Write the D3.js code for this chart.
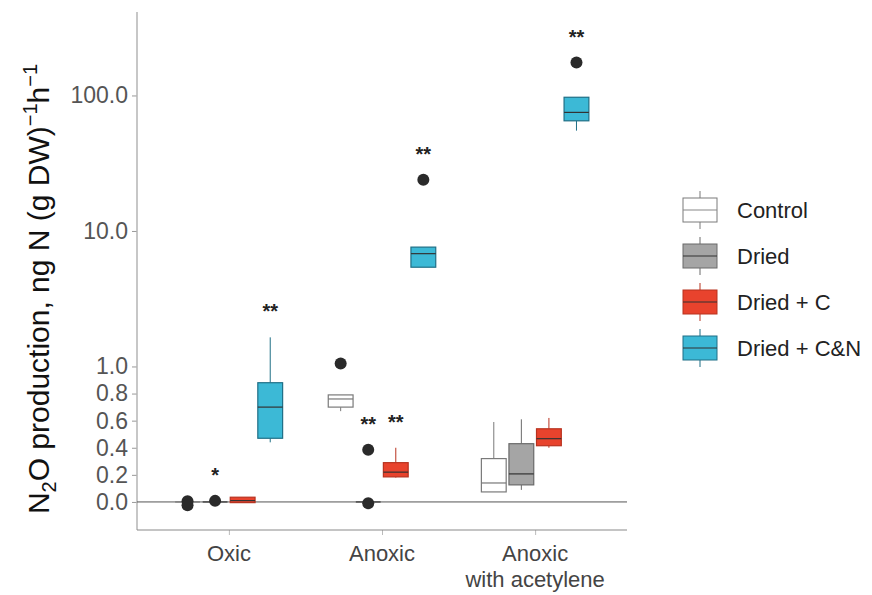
<!DOCTYPE html>
<html>
<head>
<meta charset="utf-8">
<script src="https://cdn.jsdelivr.net/npm/d3@7"></script>
<style>
  html, body { margin: 0; padding: 0; background: #fff; }
  svg { display: block; font-family: Arial, "Liberation Sans", Helvetica, sans-serif; }
</style>
</head>
<body>
<svg id="chart" width="872" height="595"></svg>
<script>
// ---------------- data ----------------
const conditions = ["Oxic", "Anoxic", "Anoxic|with acetylene"];
const treatments = ["Control", "Dried", "Dried + C", "Dried + C&N"];
const yTickValues = [0, 0.2, 0.4, 0.6, 0.8, 1, 10, 100];

// box stats per condition: [lowerWhisker, q1, median, q3, upperWhisker]
const controlBoxes   = [[0, 0, 0, 0, 0], [0.67, 0.70, 0.76, 0.79, 0.79], [0.074, 0.074, 0.14, 0.32, 0.59]];
const driedBoxes     = [[0, 0, 0, 0, 0], [0, 0, 0, 0, 0], [0.089, 0.126, 0.207, 0.43, 0.61]];
const driedCBoxes    = [[-0.005, -0.005, 0.01, 0.035, 0.035], [0.18, 0.185, 0.22, 0.29, 0.40], [0.40, 0.415, 0.467, 0.54, 0.62]];
const driedCNBoxes   = [[0.44, 0.47, 0.70, 0.88, 1.64], [5.4, 5.4, 6.8, 7.6, 7.6], [55, 65, 75, 97, 97]];

// outliers per condition
const controlOutliers = [[0.005, -0.025], [1.05], []];
const driedOutliers   = [[0.008], [0.385, -0.01], []];
const driedCOutliers  = [[], [], []];
const driedCNOutliers = [[], [23.9], [175]];

// significance marks per condition
const controlSig = ["", "", ""];
const driedSig   = ["*", "**", ""];
const driedCSig  = ["", "**", ""];
const driedCNSig = ["**", "**", "**"];

const fills   = ["#ffffff", "#a5a5a5", "#e8432d", "#3cb9d6"];
const strokes = ["#7a7a7a", "#6a6a6a", "#b8321f", "#1f6f86"];

const boxesBy    = [controlBoxes, driedBoxes, driedCBoxes, driedCNBoxes];
const outliersBy = [controlOutliers, driedOutliers, driedCOutliers, driedCNOutliers];
const sigBy      = [controlSig, driedSig, driedCSig, driedCNSig];

// ---------------- layout ----------------
const svg = d3.select("#chart");
const plot = { left: 137, right: 627, top: 12, bottom: 530 };

// transform: linear up to 1, log10 above 1
const tr = v => (v <= 1 ? v : 1 + Math.log10(v));
const yLin = d3.scaleLinear().domain([-0.207, 3.616]).range([plot.bottom, plot.top]);
const y = v => yLin(tr(v));
y.copy = () => y;
y.range = () => yLin.range();
y.domain = () => yLin.domain();

const x = d3.scalePoint().domain(conditions).range([plot.left, plot.right]).padding(0.6);
const step = x.step();
const slot = step * 0.18;
const boxW = slot * 0.9;
const offset = i => (i - 1.5) * slot;

// axes
const yAxis = d3.axisLeft(y).tickValues(yTickValues).tickFormat(d3.format(".1f")).tickSize(5).tickPadding(4);
const gy = svg.append("g").attr("transform", `translate(${plot.left},0)`).call(yAxis);
gy.select(".domain").remove();
gy.selectAll(".tick line").attr("stroke", "#999");
gy.selectAll(".tick text").attr("fill", "#555").style("font-size", "23px");
svg.append("line").attr("x1", plot.left).attr("x2", plot.left)
  .attr("y1", plot.top).attr("y2", plot.bottom).attr("stroke", "#b5b5b5").attr("stroke-width", 1.5);

const xAxis = d3.axisBottom(x).tickSize(5).tickFormat("");
const gx = svg.append("g").attr("transform", `translate(0,${plot.bottom})`).call(xAxis);
gx.select(".domain").remove();
gx.selectAll(".tick line").attr("stroke", "#bbb");
svg.append("line").attr("x1", plot.left).attr("x2", plot.right)
  .attr("y1", plot.bottom).attr("y2", plot.bottom).attr("stroke", "#8a8a8a").attr("stroke-width", 1.2);

conditions.forEach(c => {
  const lines = c.split("|");
  const t = svg.append("text").attr("x", x(c)).attr("y", 561).attr("text-anchor", "middle")
    .attr("fill", "#444").style("font-size", "22px");
  lines.forEach((l, i) => t.append("tspan").attr("x", x(c)).attr("dy", i === 0 ? 0 : 26).text(l));
});

// zero reference line
svg.append("line").attr("x1", plot.left).attr("x2", plot.right)
  .attr("y1", y(0)).attr("y2", y(0)).attr("stroke", "#555").attr("stroke-width", 1);

// y title
const yt = svg.append("text").attr("transform", "translate(49,289) rotate(-90)")
  .attr("text-anchor", "middle").attr("fill", "#111").style("font-size", "30px");
yt.append("tspan").text("N");
yt.append("tspan").text("2").attr("dy", 7).style("font-size", "20px");
yt.append("tspan").text("O production, ng N (g DW)").attr("dy", -7);
yt.append("tspan").text("−1").attr("dy", -12).style("font-size", "20px");
yt.append("tspan").text("h").attr("dy", 12);
yt.append("tspan").text("−1").attr("dy", -12).style("font-size", "20px");

// ---------------- boxes ----------------
const g = svg.append("g");
treatments.forEach((t, ti) => {
  conditions.forEach((c, ci) => {
    const [lo, q1, med, q3, hi] = boxesBy[ti][ci];
    const cx = x(c) + offset(ti);
    g.append("line").attr("x1", cx).attr("x2", cx).attr("y1", y(q3)).attr("y2", y(hi))
      .attr("stroke", strokes[ti]).attr("stroke-width", 1);
    g.append("line").attr("x1", cx).attr("x2", cx).attr("y1", y(q1)).attr("y2", y(lo))
      .attr("stroke", strokes[ti]).attr("stroke-width", 1);
    g.append("rect").attr("x", cx - boxW / 2).attr("width", boxW)
      .attr("y", y(q3)).attr("height", Math.max(0, y(q1) - y(q3)))
      .attr("fill", fills[ti]).attr("stroke", strokes[ti]).attr("stroke-width", 1.2);
    g.append("line").attr("x1", cx - boxW / 2).attr("x2", cx + boxW / 2)
      .attr("y1", y(med)).attr("y2", y(med)).attr("stroke", ti === 0 ? "#777" : "#333").attr("stroke-width", 1.2);
    outliersBy[ti][ci].forEach(o => {
      g.append("circle").attr("cx", cx).attr("cy", y(o)).attr("r", 6).attr("fill", "#2a2a2a");
    });
    const s = sigBy[ti][ci];
    if (s) {
      const top = Math.max(hi, ...outliersBy[ti][ci]);
      g.append("text").attr("x", cx).attr("y", y(top) - 30 + 11).attr("text-anchor", "middle")
        .attr("fill", "#222").style("font-size", "20px").style("font-weight", "bold").text(s);
    }
  });
});

// ---------------- legend ----------------
const lg = svg.append("g");
treatments.forEach((t, i) => {
  const cy = 210 + i * 46;
  const bx = 683, bw = 34, bh = 24;
  lg.append("line").attr("x1", bx + bw / 2).attr("x2", bx + bw / 2).attr("y1", cy - bh / 2 - 7).attr("y2", cy + bh / 2 + 7)
    .attr("stroke", strokes[i]).attr("stroke-width", 1);
  lg.append("rect").attr("x", bx).attr("y", cy - bh / 2).attr("width", bw).attr("height", bh)
    .attr("fill", fills[i]).attr("stroke", strokes[i]).attr("stroke-width", 1);
  lg.append("line").attr("x1", bx).attr("x2", bx + bw).attr("y1", cy).attr("y2", cy)
    .attr("stroke", i === 0 ? "#888" : "#333").attr("stroke-width", 1.2);
  lg.append("text").attr("x", 737).attr("y", cy + 8).attr("fill", "#222")
    .style("font-size", "22px").text(t);
});
</script>
</body>
</html>
